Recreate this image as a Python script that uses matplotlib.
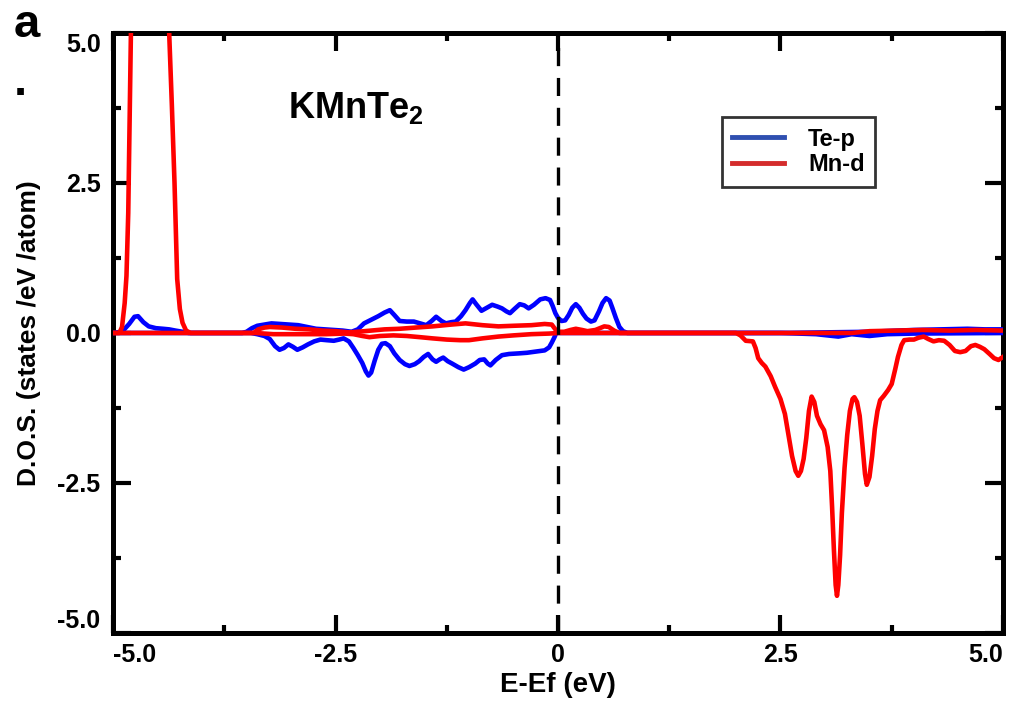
import matplotlib
matplotlib.use("Agg")
import matplotlib.pyplot as plt
from matplotlib.lines import Line2D

plt.rcParams['font.family'] = ['Liberation Sans', 'DejaVu Sans']
plt.rcParams['font.weight'] = 'bold'
plt.rcParams['mathtext.fontset'] = 'custom'
plt.rcParams['mathtext.rm'] = 'Liberation Sans:bold'
plt.rcParams['mathtext.bf'] = 'Liberation Sans:bold'
plt.rcParams['lines.scale_dashes'] = False

# Te-p, spin up
te_up_x = [-5.0, -4.9, -4.82, -4.76, -4.72, -4.66, -4.6, -4.52, -4.44, -4.37, -4.3, -4.22, -4.15,
           -3.55, -3.5, -3.44, -3.38, -3.3, -3.22, -3.12, -3.02, -2.92, -2.82, -2.72, -2.62, -2.52,
           -2.42, -2.32, -2.25, -2.18, -2.1, -2.02, -1.95, -1.89, -1.84, -1.78, -1.7, -1.62, -1.55,
           -1.48, -1.42, -1.37, -1.31, -1.26, -1.2, -1.15, -1.09, -1.04, -0.99, -0.96, -0.92, -0.86,
           -0.8, -0.74, -0.68, -0.63, -0.58, -0.54, -0.49, -0.43, -0.38, -0.33, -0.27, -0.2, -0.14,
           -0.09, -0.06, -0.03, 0.0, 0.04, 0.08, 0.12, 0.16, 0.2, 0.24, 0.28, 0.32, 0.37, 0.41, 0.46,
           0.5, 0.54, 0.58, 0.61, 0.65, 0.69, 0.73, 0.78, 2.5, 3.5, 4.0, 4.3, 4.6, 4.8, 5.0]
te_up_y = [0.0, 0.02, 0.15, 0.27, 0.28, 0.18, 0.11, 0.08, 0.07, 0.06, 0.04, 0.02, 0.0,
           0.0, 0.02, 0.08, 0.12, 0.14, 0.16, 0.15, 0.14, 0.13, 0.1, 0.07, 0.06, 0.05,
           0.04, 0.02, 0.06, 0.16, 0.22, 0.28, 0.34, 0.38, 0.3, 0.2, 0.19, 0.19, 0.16,
           0.13, 0.2, 0.27, 0.2, 0.16, 0.18, 0.19, 0.28, 0.38, 0.5, 0.56, 0.48, 0.37,
           0.42, 0.47, 0.44, 0.41, 0.36, 0.33, 0.4, 0.48, 0.46, 0.41, 0.47, 0.56, 0.58,
           0.55, 0.45, 0.33, 0.25, 0.2, 0.21, 0.3, 0.42, 0.48, 0.42, 0.32, 0.24, 0.19, 0.21, 0.36,
           0.5, 0.58, 0.54, 0.42, 0.25, 0.1, 0.03, 0.0, 0.0, 0.02, 0.05, 0.06, 0.07, 0.06, 0.06]

# Te-p, spin down
te_dn_x = [-5.0, -3.45, -3.38, -3.3, -3.24, -3.18, -3.13, -3.08, -3.03, -2.98, -2.93, -2.87, -2.81,
           -2.74, -2.67, -2.6, -2.52, -2.46, -2.41, -2.35, -2.3, -2.25, -2.2, -2.16, -2.13, -2.1,
           -2.06, -2.02, -1.98, -1.94, -1.89, -1.84, -1.78, -1.72, -1.67, -1.61, -1.56, -1.51, -1.46,
           -1.41, -1.37, -1.33, -1.29, -1.24, -1.19, -1.12, -1.06, -1.0, -0.93, -0.88, -0.83, -0.79,
           -0.76, -0.7, -0.63, -0.55, -0.44, -0.35, -0.25, -0.15, -0.1, -0.07, -0.04, -0.02,
           2.5, 2.9, 3.15, 3.3, 3.5, 3.7, 4.0, 5.0]
te_dn_y = [0.0, 0.0, -0.02, -0.05, -0.1, -0.22, -0.28, -0.25, -0.19, -0.23, -0.28, -0.24, -0.19,
           -0.14, -0.11, -0.12, -0.13, -0.11, -0.09, -0.14, -0.25, -0.37, -0.5, -0.64, -0.71, -0.66,
           -0.46, -0.28, -0.18, -0.17, -0.22, -0.34, -0.45, -0.52, -0.55, -0.52, -0.47, -0.4, -0.35,
           -0.44, -0.48, -0.44, -0.41, -0.47, -0.51, -0.57, -0.61, -0.57, -0.51, -0.45, -0.44, -0.51,
           -0.54, -0.45, -0.37, -0.35, -0.34, -0.33, -0.31, -0.29, -0.24, -0.16, -0.07, 0.0,
           0.0, -0.02, -0.06, -0.02, -0.05, -0.02, -0.01, 0.0]

# Mn-d, spin up
mn_up_x = [-5.0, -4.93, -4.9, -4.87, -4.85, -4.83, -4.82, -4.8, -4.77, -4.72, -4.65, -4.56, -4.47,
           -4.41, -4.37, -4.34, -4.31, -4.28, -4.25, -4.22, -4.18, -4.13,
           -3.42, -3.37, -3.3, -3.24, -3.1, -2.95, -2.8, -2.65, -2.5, -2.35, -2.25, -2.1, -1.95,
           -1.78, -1.6, -1.41, -1.2, -1.04, -0.85, -0.67, -0.5, -0.3, -0.15, -0.07, -0.03, 0.0,
           0.07, 0.14, 0.2, 0.27, 0.33, 0.42, 0.52, 0.57, 0.63, 0.69,
           3.3, 3.5, 3.8, 4.1, 4.4, 4.7, 5.0]
mn_up_y = [0.0, 0.0, 0.1, 0.5, 0.95, 2.0, 3.0, 5.0, 8.0, 11.5, 13.5, 13.0, 9.5,
           6.3, 5.0, 3.8, 2.5, 0.9, 0.4, 0.17, 0.04, 0.0,
           0.0, 0.06, 0.09, 0.1, 0.09, 0.07, 0.06, 0.04, 0.03, 0.01, 0.02, 0.04, 0.06,
           0.07, 0.09, 0.11, 0.14, 0.16, 0.13, 0.11, 0.12, 0.13, 0.15, 0.14, 0.06, 0.02,
           0.02, 0.05, 0.07, 0.05, 0.03, 0.05, 0.11, 0.1, 0.04, 0.0,
           0.0, 0.03, 0.04, 0.05, 0.04, 0.05, 0.04]

# Mn-d, spin down
mn_dn_x = [-5.0, -3.4, -3.2, -3.0, -2.8, -2.6, -2.4, -2.3, -2.2, -2.12, -2.0, -1.85, -1.7, -1.55,
           -1.41, -1.25, -1.1, -1.0, -0.85, -0.67, -0.5, -0.3, -0.1, 0.0,
           2.0, 2.05, 2.11, 2.19, 2.22, 2.25, 2.29, 2.33, 2.39, 2.44, 2.5, 2.55, 2.59, 2.63, 2.67,
           2.7, 2.73, 2.76, 2.79, 2.82, 2.85, 2.88, 2.91, 2.95, 2.99, 3.03, 3.06, 3.08, 3.1, 3.12,
           3.135, 3.15, 3.17, 3.19, 3.22, 3.25, 3.28, 3.31, 3.33, 3.36, 3.39, 3.42, 3.45, 3.47,
           3.5, 3.53, 3.56, 3.59, 3.62, 3.66, 3.71, 3.75, 3.79, 3.82, 3.86, 3.89, 3.95, 4.0, 4.05,
           4.11, 4.16, 4.22, 4.28, 4.34, 4.4, 4.46, 4.52, 4.58, 4.64, 4.69, 4.74, 4.79, 4.85, 4.9,
           4.95, 5.0]
mn_dn_y = [0.0, 0.0, -0.02, -0.02, -0.02, -0.02, -0.01, -0.02, -0.05, -0.07, -0.05, -0.04, -0.05, -0.07,
           -0.09, -0.11, -0.12, -0.12, -0.09, -0.06, -0.04, -0.02, -0.01, 0.0,
           0.0, -0.04, -0.13, -0.14, -0.25, -0.42, -0.5, -0.56, -0.72, -0.9, -1.1, -1.35, -1.7, -2.05, -2.3,
           -2.38, -2.3, -2.1, -1.75, -1.3, -1.06, -1.15, -1.38, -1.52, -1.62, -1.9, -2.3, -2.9, -3.6, -4.2,
           -4.38, -4.2, -3.7, -3.0, -2.25, -1.7, -1.3, -1.1, -1.07, -1.15, -1.38, -1.85, -2.35, -2.53,
           -2.4, -2.05, -1.6, -1.3, -1.12, -1.05, -0.95, -0.85, -0.6, -0.4, -0.2, -0.12, -0.11, -0.11, -0.08,
           -0.06, -0.1, -0.14, -0.12, -0.13, -0.2, -0.3, -0.32, -0.3, -0.22, -0.2, -0.23, -0.27, -0.35, -0.42,
           -0.45, -0.4]

x_ticks = [-5.0, -2.5, 0.0, 2.5, 5.0]
x_ticklabels = ['-5.0', '-2.5', '0', '2.5', '5.0']
y_ticks = [-5.0, -2.5, 0.0, 2.5, 5.0]
y_ticklabels = ['-5.0', '-2.5', '0.0', '2.5', '5.0']


def main():
    fig = plt.figure(figsize=(10.1, 7.01), dpi=100)
    ax = fig.add_axes([0.112, 0.097, 0.881, 0.856])

    lw = 3.3
    ax.plot(te_up_x, te_up_y, color='#0000ff', lw=lw, zorder=3)
    ax.plot(te_dn_x, te_dn_y, color='#0000ff', lw=lw, zorder=3)
    ax.plot(mn_up_x, mn_up_y, color='#ff0000', lw=lw, zorder=4)
    ax.plot(mn_dn_x, mn_dn_y, color='#ff0000', lw=lw, zorder=4)
    # Fermi level
    ax.axvline(0.0, color='black', lw=2.4, dashes=(13, 8.5), zorder=5)

    ax.set_xlim(-5, 5)
    ax.set_ylim(-5, 5)
    ax.set_xticks(x_ticks)
    ax.set_xticklabels(x_ticklabels)
    ax.set_yticks(y_ticks)
    ax.set_yticklabels(y_ticklabels)
    ax.set_xticks([-3.75, -1.25, 1.25, 3.75], minor=True)
    ax.set_yticks([-3.75, -1.25, 1.25, 3.75], minor=True)
    ax.tick_params(which='both', direction='in', top=True, right=True, width=3,
                   labelsize=18, pad=7)
    ax.tick_params(which='major', length=13)
    ax.tick_params(which='minor', length=6)
    ax.tick_params(axis='y', pad=9)
    for sp in ax.spines.values():
        sp.set_linewidth(3.6)

    xl = ax.get_xticklabels()
    xl[0].set_horizontalalignment('left')
    xl[-1].set_horizontalalignment('right')
    yl = ax.get_yticklabels()
    yl[0].set_verticalalignment('bottom')
    yl[-1].set_verticalalignment('top')

    ax.set_xlabel('E-Ef (eV)', fontsize=20, fontweight='bold', labelpad=4)
    ax.set_ylabel('D.O.S. (states /eV /atom)', fontsize=19, fontweight='bold', labelpad=12)

    ax.text(0.196, 0.858, r'KMnTe$_{\mathbf{2}}$', transform=ax.transAxes,
            fontsize=26, fontweight='bold', va='baseline', ha='left')

    handles = [Line2D([], [], color='#2f4fb0', lw=3.5),
               Line2D([], [], color='#d42c2c', lw=3.5)]
    leg = ax.legend(handles, ['Te-p', 'Mn-d'], loc='upper left',
                    bbox_to_anchor=(0.684, 0.86), frameon=True, fancybox=False,
                    edgecolor='black', handlelength=2.2,
                    handletextpad=1.0, borderpad=0.45, labelspacing=0.1,
                    borderaxespad=0.0, prop={'weight': 'bold', 'size': 17})
    leg.get_frame().set_linewidth(2.0)

    fig.text(0.013, 0.947, 'a', fontsize=34, fontweight='bold', va='baseline')
    fig.text(0.014, 0.864, '.', fontsize=34, fontweight='bold', va='baseline')

    fig.savefig('out.png', dpi=100)


if __name__ == "__main__":
    main()
